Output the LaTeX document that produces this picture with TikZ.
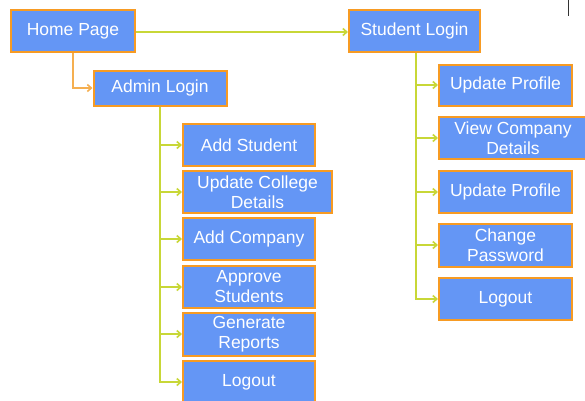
\documentclass[tikz,border=0pt]{standalone}
\usepackage{fontspec}
\setmainfont{Liberation Sans}
\usetikzlibrary{arrows.meta}
\definecolor{boxfill}{RGB}{100,150,245}
\definecolor{boxedge}{RGB}{247,155,35}
\definecolor{linegreen}{RGB}{200,215,55}
\definecolor{lineorange}{RGB}{245,175,80}
\tikzset{
  box/.style={draw=boxedge, line width=2pt, fill=boxfill, text=white, inner sep=0pt,
    align=center, font=\fontsize{17.5}{20}\selectfont},
  conn/.style={draw=linegreen, line width=1.6pt, -{Straight Barb[length=4pt,width=7pt]}},
  oconn/.style={draw=lineorange, line width=1.6pt, -{Straight Barb[length=4pt,width=7pt]}},
}
\begin{document}
\begin{tikzpicture}[x=1pt,y=-1pt]
\useasboundingbox (0,0) rectangle (585,400);
\node[box, minimum width=124pt, minimum height=42pt] (home) at (73,31) {Home Page};
\node[box, minimum width=133pt, minimum height=35pt] (adm) at (160,88) {Admin Login};
\node[box, minimum width=131pt, minimum height=42pt] (stu) at (414.5,31) {Student Login};
\node[box, minimum width=132pt, minimum height=42pt] (a1) at (249,145) {Add Student};
\node[box, minimum width=149pt, minimum height=42pt] (a2) at (257.5,192) {Update College\\Details};
\node[box, minimum width=132pt, minimum height=42pt] (a3) at (249,239) {Add Company};
\node[box, minimum width=132pt, minimum height=42pt] (a4) at (249,287) {Approve\\Students};
\node[box, minimum width=132pt, minimum height=43pt] (a5) at (249,334) {Generate\\Reports};
\node[box, minimum width=132pt, minimum height=42pt] (a6) at (249,382) {Logout};
\node[box, minimum width=133pt, minimum height=41pt] (s1) at (505.5,85) {Update Profile};
\node[box, minimum width=148pt, minimum height=42pt] (s2) at (513,138) {View Company\\Details};
\node[box, minimum width=133pt, minimum height=42pt] (s3) at (505.5,192) {Update Profile};
\node[box, minimum width=133pt, minimum height=43pt] (s4) at (505.5,245) {Change\\Password};
\node[box, minimum width=133pt, minimum height=42pt] (s5) at (505.5,299) {Logout};
\draw[conn] (home.east |- 0,32) -- (stu.west |- 0,32);
\draw[oconn] (home.south) |- (adm.west);
\foreach \c in {a1,a2,a3,a4,a5,a6} \draw[conn] (adm.south) |- (\c.west);
\foreach \c in {s1,s2,s3,s4,s5} \draw[conn] ([xshift=1.5pt]stu.south) |- (\c.west);
\coordinate (mk1) at (568,0);
\coordinate (mk2) at (568,16);
\draw[line width=1pt, black!80] (mk1) -- (mk2);
\end{tikzpicture}
\end{document}
